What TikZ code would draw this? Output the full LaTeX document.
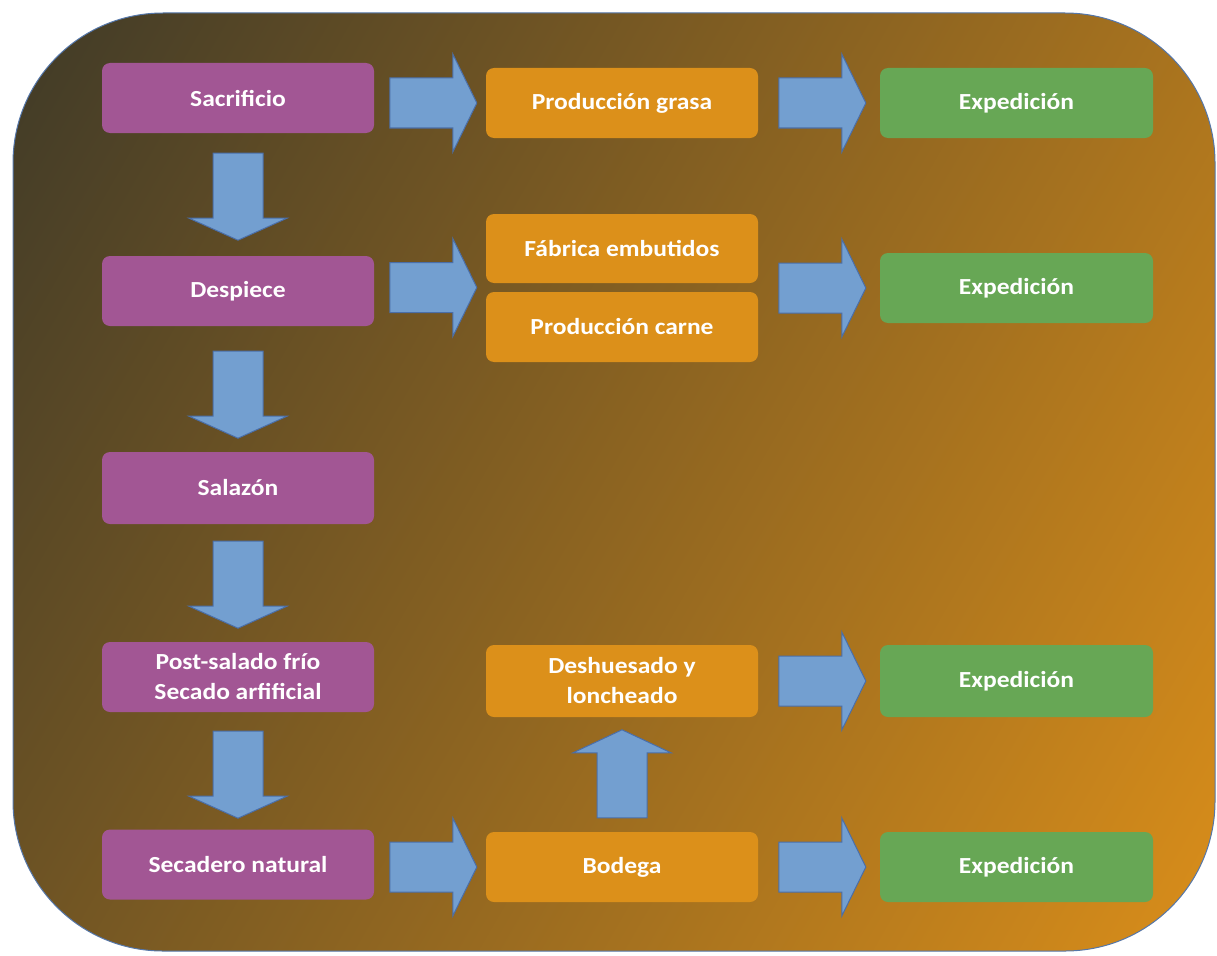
\documentclass[tikz,border=0pt]{standalone}
\usepackage{fontspec}
\setmainfont{Carlito}[FakeStretch=1.11]
\usetikzlibrary{calc}
\definecolor{bgdark}{HTML}{3F3A28}
\definecolor{bglight}{HTML}{DA8E1A}
\definecolor{bgedge}{HTML}{5577AA}
\definecolor{purplebox}{HTML}{A25694}
\definecolor{orangebox}{HTML}{DC901A}
\definecolor{greenbox}{HTML}{67A755}
\definecolor{arrowfill}{HTML}{739FD0}
\definecolor{arrowline}{HTML}{4A6EA8}
\pgfdeclarehorizontalshading{bgshade}{1500pt}{color(0pt)=(bgdark); color(1510pt)=(bglight)}
\tikzset{
  box/.style={rounded corners=8pt, minimum width=272pt, minimum height=70pt, inner sep=0pt,
    text=white, align=center, font=\bfseries\fontsize{23}{30}\selectfont},
  pbox/.style={box, fill=purplebox},
  obox/.style={box, fill=orangebox},
  gbox/.style={box, fill=greenbox},
  barrow/.style={fill=arrowfill, draw=arrowline, line width=1pt, line join=miter},
  rarr/.pic={\draw[barrow] (0,-25) -- (63,-25) -- (63,-49) -- (87,0) -- (63,49) -- (63,25) -- (0,25) -- cycle;},
  darr/.pic={\draw[barrow] (-25,0) -- (25,0) -- (25,65) -- (49,65) -- (0,87) -- (-49,65) -- (-25,65) -- cycle;},
  uarr/.pic={\draw[barrow] (-25,0) -- (25,0) -- (25,-65) -- (49,-65) -- (0,-88) -- (-49,-65) -- (-25,-65) -- cycle;}
}
\begin{document}
\begin{tikzpicture}[x=1pt,y=-1pt]
\useasboundingbox (0,0) rectangle (1217,955);
\begin{scope}
  \clip[rounded corners=150pt] (13,13) rectangle (1215,951);
  \node[inner sep=0pt, outer sep=0pt, rotate=-30] (bg) at (614,482) {\pgfuseshading{bgshade}};
\end{scope}
\draw[bgedge, line width=1pt, rounded corners=150pt] (13,13) rectangle (1215,951);

% purple column
\node[pbox] (sac) at (238,98) {Sacrificio};
\node[pbox] (desp) at (238,291) {Despiece};
\node[pbox, minimum height=72pt] (sal) at (238,488) {Salazón};
\node[pbox] (post) at (238,677) {Post-salado frío\\Secado arfificial};
\node[pbox] (seca) at (238,864.5) {Secadero natural};

% orange column
\node[obox] (pgrasa) at (622,103) {Producción grasa};
\node[obox, minimum height=69pt] (fab) at (622,248.5) {Fábrica embutidos};
\node[obox] (pcarne) at (622,327) {Producción carne};
\node[obox, minimum height=72pt] (desh) at (622,681) {Deshuesado y\\loncheado};
\node[obox] (bod) at (622,867) {Bodega};

% green column
\node[gbox, minimum width=273pt] (e1) at (1016.5,103) {Expedición};
\node[gbox, minimum width=273pt] (e2) at (1016.5,288) {Expedición};
\node[gbox, minimum width=273pt, minimum height=72pt] (e3) at (1016.5,681) {Expedición};
\node[gbox, minimum width=273pt] (e4) at (1016.5,867) {Expedición};

% right arrows
\pic at ($(pgrasa.west)+(-96,0)$) {rarr};
\pic at ($(e1.west)+(-101,0)$) {rarr};
\pic at ($($(fab.south west)!0.5!(pcarne.north west)$)+(-96,0)$) {rarr};
\pic at ($(e2.west)+(-101,0)$) {rarr};
\pic at ($(e3.west)+(-101,0)$) {rarr};
\pic at ($(bod.west)+(-96,0)$) {rarr};
\pic at ($(e4.west)+(-101,0)$) {rarr};

% down arrows
\pic at ($(sac.south)+(0,20)$) {darr};
\pic at ($(desp.south)+(0,25)$) {darr};
\pic at ($(sal.south)+(0,17)$) {darr};
\pic at ($(post.south)+(0,19)$) {darr};

% up arrow
\pic at ($(bod.north)+(0,-14)$) {uarr};
\end{tikzpicture}
\end{document}
